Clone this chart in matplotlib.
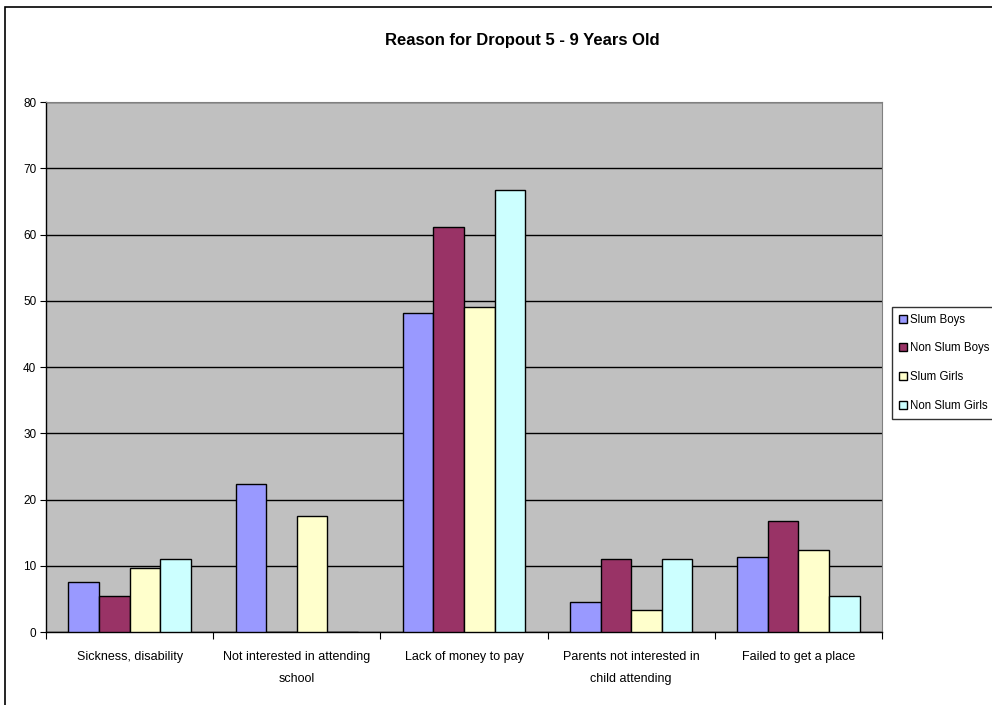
import matplotlib.pyplot as plt
import numpy as np
from matplotlib.patches import Rectangle

plt.rcParams['font.family'] = ['Liberation Sans', 'DejaVu Sans']

# dropout reasons, 5 - 9 year olds (percent)
categories = ['Sickness, disability', 'Not interested in attending\nschool',
              'Lack of money to pay', 'Parents not interested in\nchild attending',
              'Failed to get a place']
series_names = ['Slum Boys', 'Non Slum Boys', 'Slum Girls', 'Non Slum Girls']
slum_boys = [7.5, 22.4, 48.2, 4.6, 11.3]
non_slum_boys = [5.4, 0, 61.2, 11.0, 16.8]
slum_girls = [9.7, 17.5, 49.1, 3.4, 12.4]
non_slum_girls = [11.0, 0, 66.7, 11.0, 5.5]
colors = ['#9999FF', '#993366', '#FFFFCC', '#CCFFFF']
yticks = [0, 10, 20, 30, 40, 50, 60, 70, 80]

fig = plt.figure(figsize=(9.92, 7.05), dpi=100)
ax = fig.add_axes([0.0464, 0.1035, 0.8427, 0.7518])
ax.set_facecolor('#C0C0C0')

x = np.arange(len(categories))
width = 0.183
all_series = [slum_boys, non_slum_boys, slum_girls, non_slum_girls]
for i, (vals, name, c) in enumerate(zip(all_series, series_names, colors)):
    ax.bar(x + (i - 1.5) * width, vals, width, color=c, edgecolor='black',
           linewidth=1.0, label=name, zorder=3)

ax.set_xlim(-0.5, len(categories) - 0.5)
ax.set_ylim(0, 80)
ax.set_yticks(yticks)
ax.yaxis.grid(True, color='black', linewidth=1.0, zorder=1)
ax.set_axisbelow(True)

# category labels between boundary ticks
ax.set_xticks(np.arange(len(categories) + 1) - 0.5)
ax.set_xticklabels([])
ax.set_xticks(x, minor=True)
ax.set_xticklabels(categories, minor=True, fontsize=9, linespacing=2.1)
ax.tick_params(axis='x', which='minor', length=0, pad=14)
ax.tick_params(axis='x', which='major', length=5, direction='out', color='black')
ax.tick_params(axis='y', length=4, direction='out', labelsize=8.5, pad=3)

for side in ['top', 'right']:
    ax.spines[side].set_color('#808080')
for side in ['left', 'bottom']:
    ax.spines[side].set_color('black')
    ax.spines[side].set_linewidth(1.0)

fig.text(0.527, 0.943, 'Reason for Dropout 5 - 9 Years Old', ha='center',
         va='center', fontsize=12, fontweight='bold')

leg = fig.legend(loc='upper left', bbox_to_anchor=(0.899, 0.565), fontsize=8.3,
                 frameon=True, fancybox=False, edgecolor='black',
                 handlelength=0.7, handleheight=0.7, handletextpad=0.25,
                 borderpad=0.6, labelspacing=1.45, borderaxespad=0)
leg.get_frame().set_linewidth(1.0)

# outer chart border
fig.patches.append(Rectangle((5 / 992, -0.1), 1.2, 1.1 - 7 / 705,
                             transform=fig.transFigure, fill=False,
                             edgecolor='black', linewidth=1.2))

fig.savefig('out.png', dpi=100)
